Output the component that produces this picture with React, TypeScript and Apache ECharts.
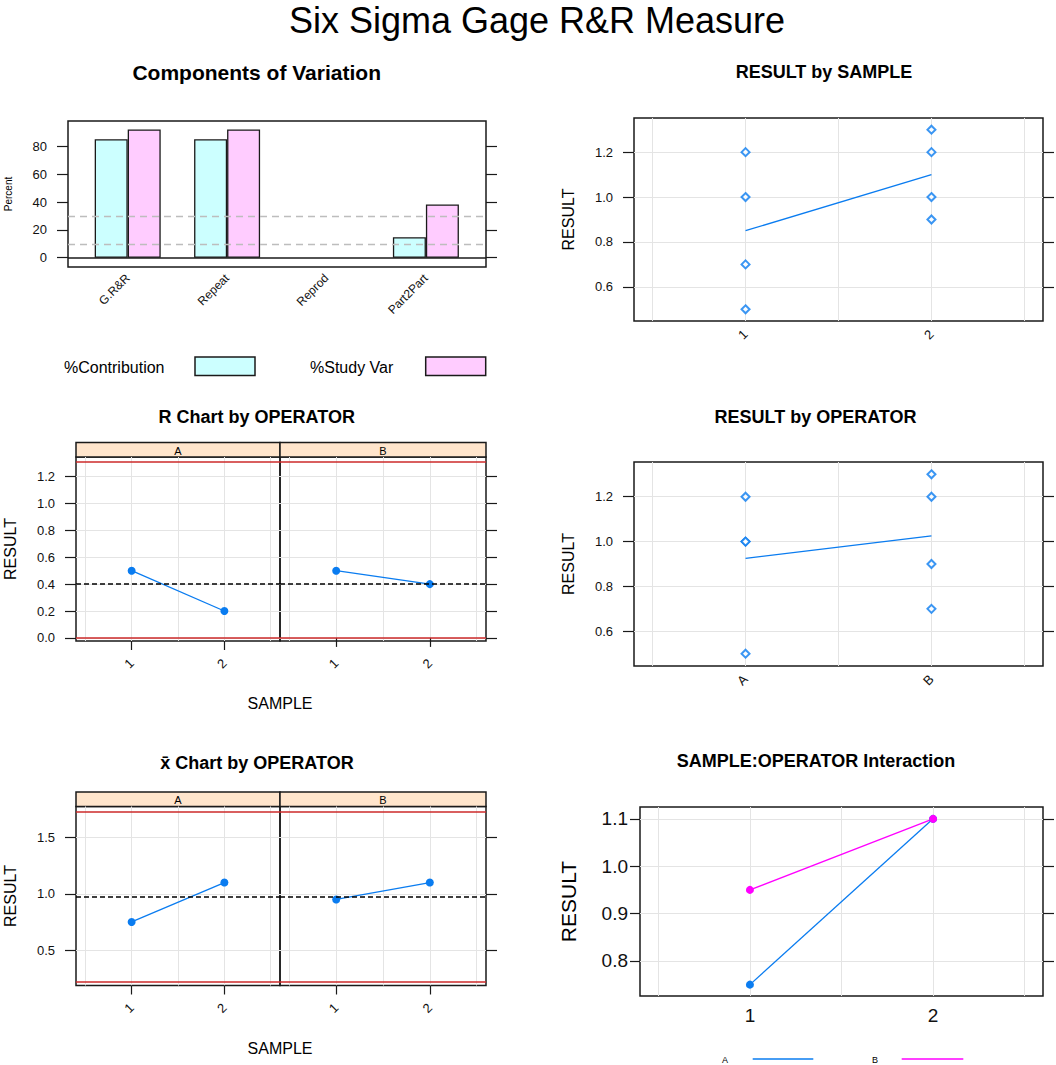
import React, { useEffect, useRef } from "react";
import * as echarts from "echarts";

// ---------------- data ----------------
const componentCategories = ["G.R&R", "Repeat", "Reprod", "Part2Part"];
const pctContribution = [85.3, 85.3, 0, 14.7];
const pctStudyVar = [92.4, 92.4, 0, 38.3];
const componentTicks = [0, 20, 40, 60, 80];
const componentRefLines = [10, 30];
const componentLegend = ["%Contribution", "%Study Var"];

const samples = ["1", "2"];
const operators = ["A", "B"];

const sample1Values = [1.2, 1.0, 0.7, 0.5];
const sample2Values = [1.3, 1.2, 1.0, 0.9];
const sampleMeans = [0.85, 1.1];

const operatorAValues = [1.2, 1.0, 1.0, 0.5];
const operatorBValues = [1.3, 1.2, 0.9, 0.7];
const operatorMeans = [0.925, 1.025];
const resultTicks = [0.6, 0.8, 1.0, 1.2];

const rangesA = [0.5, 0.2];
const rangesB = [0.5, 0.4];
const rCenter = 0.4;
const rUCL = 1.307;
const rLCL = 0;
const rTicks = [0, 0.2, 0.4, 0.6, 0.8, 1.0, 1.2];

const xbarA = [0.75, 1.1];
const xbarB = [0.95, 1.1];
const xbarCenter = 0.975;
const xbarUCL = 1.727;
const xbarLCL = 0.223;
const xbarTicks = [0.5, 1.0, 1.5];

const interactionA = [0.75, 1.1];
const interactionB = [0.95, 1.1];
const interactionTicks = [0.8, 0.9, 1.0, 1.1];

const xGridValues = [0.5, 1, 1.5, 2, 2.5];
const xPositions = [1, 2];

// ---------------- styles ----------------
const FONT = "'Liberation Sans', Arial, Helvetica, sans-serif";
const BOX = "#1a1a1a";
const GRIDC = "#e4e4e4";
const TXT = "#111";
const BLUE = "#0a7cf0";
const MAGENTA = "#ff00ff";
const RED = "#cc2a2a";
const CYAN = "#ccffff";
const PINK = "#ffccff";
const PEACH = "#ffe5cc";

function buildOption() {
  const grid: any[] = [];
  const xAxis: any[] = [];
  const yAxis: any[] = [];
  const series: any[] = [];
  const graphic: any[] = [];

  const addGrid = (left: number, top: number, width: number, height: number, show = true) => {
    grid.push({
      left, top, width, height, show,
      borderColor: BOX, borderWidth: 1.5, backgroundColor: "rgba(0,0,0,0)",
    });
    return grid.length - 1;
  };

  const text = (t: string, x: number, y: number, size: number, weight = "normal", align = "center") => {
    graphic.push({
      type: "text", x, y, silent: true,
      style: {
        text: t, fill: "#000", fontSize: size, fontWeight: weight, fontFamily: FONT,
        align, verticalAlign: "middle", textAlign: align, textVerticalAlign: "middle",
      },
    });
  };

  const tickLine = { color: BOX, width: 1.2 };

  function panel(c: any) {
    const g = addGrid(c.left, c.top, c.width, c.height);
    xAxis.push({
      type: "value", gridIndex: g, position: "top", min: c.xmin, max: c.xmax,
      axisLine: { show: false }, axisTick: { show: false, customValues: xGridValues },
      axisLabel: { show: false }, splitLine: { show: true, lineStyle: { color: GRIDC, width: 1 } },
    });
    xAxis.push({
      type: "value", gridIndex: g, position: "bottom", min: c.xmin, max: c.xmax,
      axisLine: { show: false },
      axisTick: { show: c.xTicks, length: 9, customValues: xPositions, lineStyle: tickLine },
      axisLabel: {
        customValues: xPositions, formatter: (v: number) => c.xLabels[Math.round(v) - 1],
        rotate: c.xRotate, margin: c.xMargin, fontSize: c.xSize, color: TXT, fontFamily: FONT,
      },
      splitLine: { show: false },
    });
    const xi = xAxis.length - 1;
    yAxis.push({
      type: "value", gridIndex: g, position: "left", min: c.ymin, max: c.ymax,
      axisLine: { show: false },
      axisTick: { show: c.leftAxis, length: c.yTickLen ?? 11, customValues: c.yTicks, lineStyle: tickLine },
      axisLabel: {
        show: c.leftAxis, customValues: c.yTicks, formatter: c.yFmt,
        margin: c.yMargin ?? 21, fontSize: c.ySize ?? 13, color: TXT, fontFamily: FONT,
      },
      splitLine: { show: true, lineStyle: { color: GRIDC, width: 1 } },
      name: c.yName, nameLocation: "middle", nameRotate: 90, nameGap: c.yNameGap,
      nameTextStyle: { fontSize: c.yNameSize ?? 16, color: "#000", fontFamily: FONT },
    });
    const yi = yAxis.length - 1;
    if (c.rightAxis) {
      yAxis.push({
        type: "value", gridIndex: g, position: "right", min: c.ymin, max: c.ymax,
        axisLine: { show: false },
        axisTick: { show: true, length: 11, customValues: c.yTicks, lineStyle: tickLine },
        axisLabel: { show: false }, splitLine: { show: false },
      });
    }
    return { x: xi, y: yi };
  }

  const fmt1 = (v: number) => v.toFixed(1);

  // ---------- Components of Variation ----------
  const cMin = -6.7, cMax = 98.5;
  const g0 = addGrid(68, 121, 418, 146, true);
  xAxis.push({ type: "value", gridIndex: g0, min: 0, max: 1, show: false });
  const x0 = xAxis.length - 1;
  yAxis.push({
    type: "value", gridIndex: g0, position: "left", min: cMin, max: cMax,
    axisLine: { show: false },
    axisTick: { show: true, length: 11, customValues: componentTicks, lineStyle: tickLine },
    axisLabel: { customValues: componentTicks, margin: 21, fontSize: 13, color: TXT, fontFamily: FONT },
    splitLine: { show: false },
    name: "Percent", nameLocation: "middle", nameRotate: 90, nameGap: 55,
    nameTextStyle: { fontSize: 10, color: "#000", fontFamily: FONT },
  });
  const y0 = yAxis.length - 1;
  yAxis.push({
    type: "value", gridIndex: g0, position: "right", min: cMin, max: cMax,
    axisLine: { show: false },
    axisTick: { show: true, length: 11, customValues: componentTicks, lineStyle: tickLine },
    axisLabel: { show: false }, splitLine: { show: false },
  });
  const g0b = addGrid(78, 121, 397.6, 146, false);
  xAxis.push({
    type: "category", gridIndex: g0b, data: componentCategories,
    axisLine: { show: false }, axisTick: { show: false },
    axisLabel: { rotate: 45, margin: 9, fontSize: 12, interval: 0, color: TXT, fontFamily: FONT },
    splitLine: { show: false },
  });
  const x0b = xAxis.length - 1;
  yAxis.push({ type: "value", gridIndex: g0b, min: cMin, max: cMax, show: false });
  const y0b = yAxis.length - 1;
  series.push({
    type: "line", xAxisIndex: x0, yAxisIndex: y0, data: [], silent: true,
    markLine: {
      silent: true, symbol: ["none", "none"], label: { show: false },
      data: [
        ...componentRefLines.map((v) => ({ yAxis: v, lineStyle: { color: "#bdbdbd", type: [7, 5], width: 1.3 } })),
        { yAxis: 0, lineStyle: { color: BOX, type: "solid", width: 1.5 } },
      ],
    },
  });
  const barData = (arr: number[]) => arr.map((v) => (v === 0 ? { value: v, itemStyle: { borderWidth: 0 } } : v));
  series.push({
    type: "bar", name: componentLegend[0], xAxisIndex: x0b, yAxisIndex: y0b, data: barData(pctContribution),
    barWidth: 33, barGap: "0%", itemStyle: { color: CYAN, borderColor: BOX, borderWidth: 1.3 },
  });
  series.push({
    type: "bar", name: componentLegend[1], xAxisIndex: x0b, yAxisIndex: y0b, data: barData(pctStudyVar),
    barWidth: 33, barGap: "0%", itemStyle: { color: PINK, borderColor: BOX, borderWidth: 1.3 },
  });
  // legend of the bar chart
  text(componentLegend[0], 64, 367, 16, "normal", "left");
  graphic.push({ type: "rect", shape: { x: 195, y: 357, width: 60, height: 18.5 }, style: { fill: CYAN, stroke: BOX, lineWidth: 1.5 } });
  text(componentLegend[1], 310, 367, 16, "normal", "left");
  graphic.push({ type: "rect", shape: { x: 425.7, y: 357, width: 60, height: 18.5 }, style: { fill: PINK, stroke: BOX, lineWidth: 1.5 } });

  // ---------- RESULT by SAMPLE ----------
  const p2 = panel({
    left: 634, top: 118, width: 409, height: 203, ymin: 0.448, ymax: 1.352, yTicks: resultTicks, yFmt: fmt1,
    leftAxis: true, rightAxis: true, xmin: 0.4, xmax: 2.6, xLabels: samples, xTicks: false,
    xRotate: 45, xMargin: 11, xSize: 13, yName: "RESULT", yNameGap: 58,
  });
  series.push({
    type: "scatter", xAxisIndex: p2.x, yAxisIndex: p2.y, symbol: "emptyDiamond", symbolSize: 8,
    itemStyle: { color: BLUE, borderWidth: 1.3 },
    data: [...sample1Values.map((v) => [xPositions[0], v]), ...sample2Values.map((v) => [xPositions[1], v])],
  });
  series.push({
    type: "line", xAxisIndex: p2.x, yAxisIndex: p2.y, showSymbol: false, lineStyle: { color: BLUE, width: 1.3 },
    data: sampleMeans.map((v, i) => [xPositions[i], v]),
  });

  // ---------- RESULT by OPERATOR ----------
  const p4 = panel({
    left: 634, top: 462, width: 409, height: 204, ymin: 0.445, ymax: 1.355, yTicks: resultTicks, yFmt: fmt1,
    leftAxis: true, rightAxis: true, xmin: 0.4, xmax: 2.6, xLabels: operators, xTicks: false,
    xRotate: 45, xMargin: 11, xSize: 13, yName: "RESULT", yNameGap: 58,
  });
  series.push({
    type: "scatter", xAxisIndex: p4.x, yAxisIndex: p4.y, symbol: "emptyDiamond", symbolSize: 8,
    itemStyle: { color: BLUE, borderWidth: 1.3 },
    data: [...operatorAValues.map((v) => [xPositions[0], v]), ...operatorBValues.map((v) => [xPositions[1], v])],
  });
  series.push({
    type: "line", xAxisIndex: p4.x, yAxisIndex: p4.y, showSymbol: false, lineStyle: { color: BLUE, width: 1.3 },
    data: operatorMeans.map((v, i) => [xPositions[i], v]),
  });

  // ---------- control charts by operator ----------
  const subLefts = [76, 280];
  const subWidths = [204, 206];
  function controlChart(top: number, height: number, stripTop: number, ymin: number, ymax: number, ticks: number[],
    values: number[][], cl: number, ucl: number, lcl: number) {
    values.forEach((vals, i) => {
      const p = panel({
        left: subLefts[i], top, width: subWidths[i], height, ymin, ymax, yTicks: ticks, yFmt: fmt1,
        leftAxis: i === 0, rightAxis: i === 1, xmin: 0.4, xmax: 2.6, xLabels: samples, xTicks: true,
        xRotate: 45, xMargin: 20, xSize: 13, yName: i === 0 ? "RESULT" : "", yNameGap: 58,
      });
      series.push({
        type: "line", xAxisIndex: p.x, yAxisIndex: p.y, symbol: "circle", symbolSize: 8,
        itemStyle: { color: BLUE }, lineStyle: { color: BLUE, width: 1.3 },
        data: vals.map((v, k) => [xPositions[k], v]),
        markLine: {
          silent: true, symbol: ["none", "none"], label: { show: false },
          data: [
            { yAxis: ucl, lineStyle: { color: RED, type: "solid", width: 1.6 } },
            { yAxis: lcl, lineStyle: { color: RED, type: "solid", width: 1.6 } },
            { yAxis: cl, lineStyle: { color: "#000", type: [5, 3], width: 1.5 } },
          ],
        },
      });
      graphic.push({
        type: "rect", shape: { x: subLefts[i], y: stripTop, width: subWidths[i], height: top - stripTop },
        style: { fill: PEACH, stroke: BOX, lineWidth: 1.5 },
      });
      text(operators[i], subLefts[i] + subWidths[i] / 2, (stripTop + top) / 2 + 1, 11);
    });
  }
  controlChart(457, 184, 442.5, -0.023, 1.346, rTicks, [rangesA, rangesB], rCenter, rUCL, rLCL);
  text("SAMPLE", 280, 703, 16);
  controlChart(806.5, 179, 792, 0.186, 1.775, xbarTicks, [xbarA, xbarB], xbarCenter, xbarUCL, xbarLCL);
  text("SAMPLE", 280, 1048, 16);

  // ---------- interaction ----------
  const p6 = panel({
    left: 640, top: 807, width: 403, height: 189, ymin: 0.726, ymax: 1.125, yTicks: interactionTicks, yFmt: fmt1,
    leftAxis: true, rightAxis: true, xmin: 0.4, xmax: 2.6, xLabels: samples, xTicks: false,
    xRotate: 0, xMargin: 10, xSize: 19, yName: "RESULT", yNameGap: 61, yNameSize: 21, yMargin: 12, ySize: 19, yTickLen: 10,
  });
  series.push({
    type: "line", name: operators[0], xAxisIndex: p6.x, yAxisIndex: p6.y, symbol: "circle", symbolSize: 8,
    itemStyle: { color: BLUE }, lineStyle: { color: BLUE, width: 1.3 },
    data: interactionA.map((v, i) => [xPositions[i], v]),
  });
  series.push({
    type: "line", name: operators[1], xAxisIndex: p6.x, yAxisIndex: p6.y, symbol: "circle", symbolSize: 8,
    itemStyle: { color: MAGENTA }, lineStyle: { color: MAGENTA, width: 1.3 },
    data: interactionB.map((v, i) => [xPositions[i], v]),
  });
  text(operators[0], 725, 1060, 9);
  graphic.push({ type: "line", shape: { x1: 752.7, y1: 1059, x2: 813.3, y2: 1059 }, style: { stroke: BLUE, lineWidth: 1.5 } });
  text(operators[1], 875, 1060, 9);
  graphic.push({ type: "line", shape: { x1: 901.7, y1: 1059, x2: 963.3, y2: 1059 }, style: { stroke: MAGENTA, lineWidth: 1.5 } });

  // ---------- titles ----------
  text("Six Sigma Gage R&R Measure", 537, 20, 36);
  text("Components of Variation", 256.7, 72, 21, "bold");
  text("RESULT by SAMPLE", 824, 72, 18, "bold");
  text("R Chart by OPERATOR", 256.7, 416.5, 18, "bold");
  text("RESULT by OPERATOR", 815.5, 416.5, 18, "bold");
  text("x\u0304 Chart by OPERATOR", 257, 763, 18, "bold");
  text("SAMPLE:OPERATOR Interaction", 816, 761, 18, "bold");

  return {
    animation: false,
    backgroundColor: "#fff",
    textStyle: { fontFamily: FONT },
    grid, xAxis, yAxis, series, graphic,
  };
}

export default function App() {
  const ref = useRef<HTMLDivElement>(null);
  useEffect(() => {
    if (!ref.current) return;
    const chart = echarts.init(ref.current, undefined, { renderer: "svg", width: 1056, height: 1065 });
    chart.setOption(buildOption() as any);
    return () => chart.dispose();
  }, []);
  return (
    <div
      ref={ref}
      style={{ position: "absolute", left: 0, top: 0, width: 1056, height: 1065, background: "#fff" }}
    />
  );
}
